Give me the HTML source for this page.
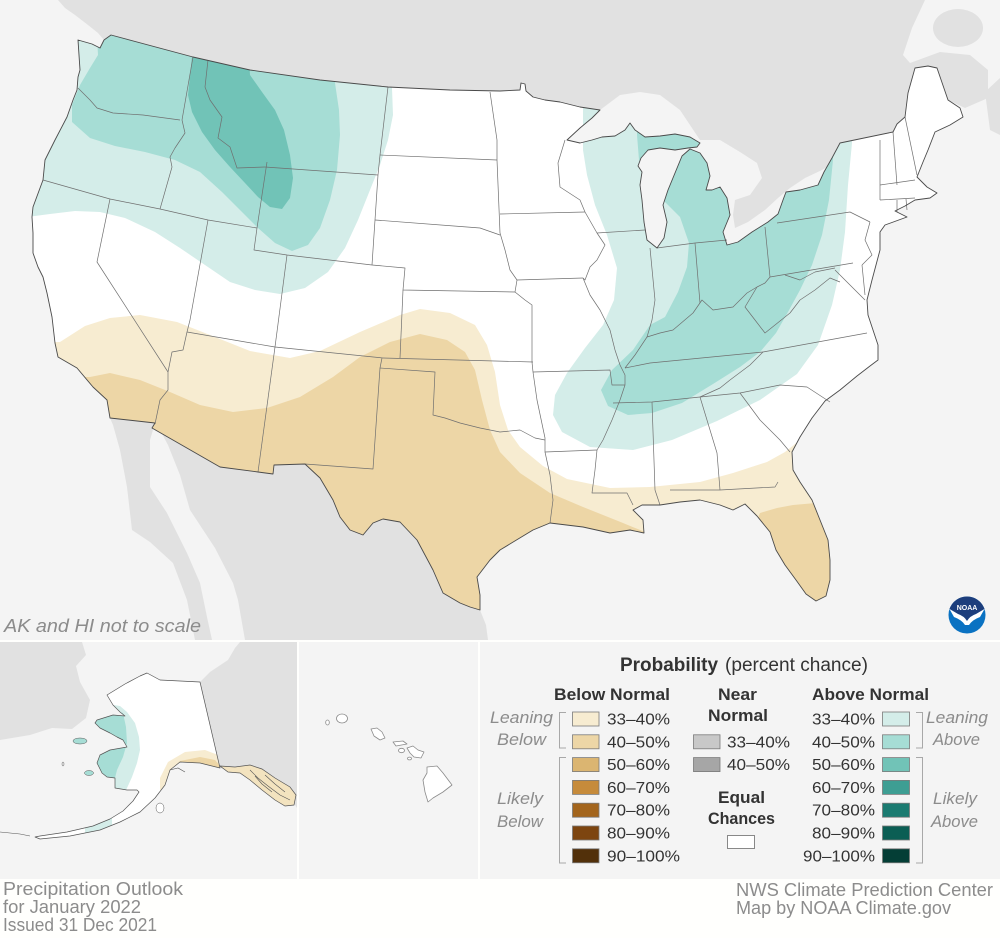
<!DOCTYPE html>
<html><head><meta charset="utf-8">
<style>
html,body{margin:0;padding:0;background:#fffffd;}
svg{display:block;}
text{font-family:"Liberation Sans",sans-serif;}
</style></head><body>
<svg width="1000" height="938" viewBox="0 0 1000 938" xmlns="http://www.w3.org/2000/svg">
<defs>
<clipPath id="us"><path d="M78,40 L92,44 100,48 104,40 111,35 193,57 250,70 320,80 388,87 450,90 500,91 520,90 521,83 525,84 526,91 533,97 545,100 560,102 580,107 600,110 592,118 580,128 567,140 580,143 592,140 602,137 615,136 625,130 630,123 635,130 645,137 660,136 675,134 690,137 700,143 697,147 688,148 675,150 660,148 648,150 641,158 638,166 642,172 640,185 642,200 644,222 647,240 657,248 664,238 667,222 663,205 668,190 675,173 682,156 690,149 700,153 707,163 710,176 706,190 712,190 720,187 727,198 730,215 723,232 727,245 738,242 752,232 768,222 778,214 783,200 786,192 800,190 818,185 824,172 832,158 840,143 893,132 897,124 905,117 908,93 915,68 928,66 937,68 948,100 960,108 963,117 950,125 935,132 928,150 923,162 917,177 927,187 937,193 930,198 915,200 905,206 895,211 907,217 885,225 880,232 880,250 876,265 872,280 867,300 868,315 873,330 878,345 878,360 870,366 857,376 840,390 825,401 812,418 800,437 792,452 793,470 800,482 812,500 820,520 828,540 830,560 830,580 826,596 816,601 806,594 796,580 785,565 776,550 770,532 757,516 745,504 733,510 720,505 700,500 680,502 660,505 642,505 633,510 643,520 644,533 630,530 610,533 583,527 550,523 533,530 500,550 490,560 477,577 480,595 480,610 470,607 460,603 443,593 433,570 417,540 400,522 383,519 373,523 363,535 350,530 340,517 333,500 320,478 305,464 274,465 273,474 258,472 220,467 152,428 155,423 110,418 107,400 93,387 77,368 58,357 55,343 52,317 47,293 43,277 38,267 33,253 33,233 32,217 33,207 43,180 45,160 55,140 67,117 73,100 77,90 78,77 80,70 Z"/></clipPath>
<clipPath id="ak"><path d="M107,695 L125,684 140,676 147,673 160,680 200,682 220,768 200,763 180,762 170,770 165,785 155,798 140,812 120,822 100,830 70,836 40,839 35,837 40,836 67,832 93,826 110,819 123,811 133,801 139,792 137,790 127,790 115,788 115,778 107,777 102,773 97,763 100,755 110,750 127,747 123,740 117,737 110,733 100,728 95,723 97,720 113,715 125,716 120,712 113,705 Z"/></clipPath>
<clipPath id="mainclip"><rect x="0" y="0" width="1000" height="640"/></clipPath>
<clipPath id="akpanel"><rect x="0" y="642" width="297" height="237"/></clipPath>
</defs>

<rect width="1000" height="938" fill="#fffffd"/>

<!-- MAIN MAP -->
<g clip-path="url(#mainclip)">
<rect width="1000" height="640" fill="#f4f4f4"/>
<!-- Canada -->
<path fill="#e1e1e1" d="M58,0 L925,0 912,28 903,55 910,63 940,52 970,55 988,70 988,98 965,108 948,100 937,68 915,68 908,93 905,117 893,132 840,143 845,150 838,160 822,170 805,178 790,188 778,198 765,210 748,222 735,228 733,215 735,200 750,195 762,178 757,163 740,152 720,140 700,140 690,125 680,110 660,95 640,92 620,95 600,110 580,107 560,102 545,100 533,97 526,91 525,84 521,83 520,90 500,91 450,90 388,87 320,80 250,70 193,57 111,35 104,40 98,33 88,25 75,15 65,8 Z"/>
<ellipse cx="958" cy="28" rx="25" ry="19" fill="#e1e1e1"/>
<path fill="#e1e1e1" d="M985,92 L1000,78 1000,135 990,130 Z"/>
<!-- Mexico -->
<path fill="#e1e1e1" d="M155,423 L152,428 220,467 258,472 273,474 274,465 305,464 320,478 333,500 340,517 363,535 373,523 383,519 400,522 417,540 433,570 443,593 460,603 480,610 486,625 488,640 245,640 238,600 233,583 215,548 190,510 180,475 168,445 160,430 Z"/>
<path fill="#e1e1e1" d="M110,418 L155,423 150,440 150,487 167,513 187,553 200,583 207,617 212,640 195,640 187,600 173,563 150,542 132,530 127,487 120,450 113,425 Z"/>

<!-- US land -->
<rect x="0" y="0" width="1000" height="640" fill="#ffffff" clip-path="url(#us)"/>
<g clip-path="url(#us)">
<path fill="#d4ede9" d="M20,0 L392,0 392,88 393,115 388,140 380,165 370,190 358,220 345,248 328,272 305,288 280,294 255,290 230,282 205,265 180,248 155,232 125,218 100,212 75,211 50,214 20,218 Z"/>
<path fill="#a6ddd5" d="M95,0 L338,0 335,83 339,110 340,135 337,170 330,200 320,228 308,245 292,251 275,243 258,228 240,210 222,192 200,172 175,160 145,152 115,146 90,138 72,122 72,105 80,85 90,68 98,55 Z"/>
<path fill="#71c3b7" d="M198,0 L245,0 250,75 262,92 275,110 284,130 290,155 293,178 290,198 282,209 270,207 258,197 245,183 230,167 215,150 202,132 192,112 188,95 190,75 Z"/>
<path fill="#d4ede9" d="M583,0 L583,150 587,175 595,205 607,235 617,268 614,300 603,325 585,348 567,373 555,395 553,415 562,432 590,447 633,450 672,440 717,421 760,400 797,374 818,345 832,305 840,270 845,232 848,185 852,143 852,0 Z"/>
<path fill="#a6ddd5" d="M637,0 L637,135 639,160 650,178 663,200 680,217 689,243 687,267 678,292 665,317 650,325 633,350 612,370 601,390 608,406 628,415 652,413 682,403 713,384 740,367 760,352 776,333 788,312 800,290 812,265 822,235 829,200 833,160 834,0 Z"/>
<path fill="#f7ecd1" d="M0,343 L60,342 85,326 110,318 140,315 177,322 210,335 250,351 290,358 320,351 360,332 400,315 420,309 450,313 475,325 487,345 495,372 500,405 508,430 520,447 543,466 567,479 610,488 650,487 700,482 733,473 767,462 785,452 800,440 900,440 900,640 0,640 Z"/>
<path fill="#edd6a6" d="M0,377 L90,377 110,373 140,380 170,392 200,405 233,412 267,408 300,397 333,377 360,357 390,342 420,334 447,340 465,352 475,370 482,400 490,430 500,452 520,473 550,493 583,507 623,523 645,532 650,640 0,640 Z"/>
<path fill="#edd6a6" d="M740,540 L757,520 760,513 777,508 793,505 850,500 850,640 740,640 Z"/>
</g>

<!-- state lines -->
<g fill="none" stroke="#6f6f6f" stroke-width="0.7" stroke-linejoin="round">
<polyline points="78,88 90,100 97,108 113,113 143,115 180,120"/>
<polyline points="193,57 182,120"/>
<polyline points="182,120 185,133 175,148 170,157 172,167 160,209"/>
<polyline points="43,180 110,199 160,209 208,220 257,228"/>
<polyline points="110,199 97,262 168,372"/>
<polyline points="208,220 190,320 187,332"/>
<polyline points="187,332 183,350 172,352 168,372 168,390 160,400 155,424"/>
<polyline points="187,332 275,347 383,358"/>
<polyline points="275,347 258,472"/>
<polyline points="208,60 205,87 210,100 222,117 218,138 230,147 237,168 265,167"/>
<polyline points="267,162 257,228 254,250 287,255 372,265"/>
<polyline points="287,255 275,347"/>
<polyline points="265,167 378,175"/>
<polyline points="388,87 380,155 378,175 375,220 372,265"/>
<polyline points="380,155 497,160"/>
<polyline points="375,220 467,227 480,228 500,235"/>
<polyline points="372,265 405,268 403,290 515,292"/>
<polyline points="403,290 400,358"/>
<polyline points="383,358 533,362"/>
<polyline points="382,358 380,368 435,372 433,415 445,418 460,423 480,428 500,432 520,430 535,438 545,440"/>
<polyline points="380,368 373,469 305,464"/>
<polyline points="490,92 497,140 497,160 500,233"/>
<polyline points="500,214 585,212"/>
<polyline points="585,212 580,200 560,187 558,163 565,140"/>
<polyline points="500,233 505,250 510,270 517,280 515,292 525,300 532,305 532,362 533,372"/>
<polyline points="517,280 583,278"/>
<polyline points="585,212 597,233 605,245 597,260 590,267 585,280 583,278"/>
<polyline points="533,372 610,370 612,385 625,385"/>
<polyline points="583,278 590,295 600,310 610,330 615,350 620,365 625,375 625,385 620,400 612,420 603,440 597,450"/>
<polyline points="533,372 537,400 545,438 545,452 597,450"/>
<polyline points="545,452 550,475 553,500 550,523"/>
<polyline points="597,450 595,470 592,493 627,493 633,505"/>
<polyline points="613,403 652,402 700,397"/>
<polyline points="652,402 655,490 660,505"/>
<polyline points="700,397 717,453 720,490"/>
<polyline points="670,490 720,490 775,487 778,482"/>
<polyline points="740,393 760,420 780,440 790,452"/>
<polyline points="700,397 740,393 780,385 807,387 830,402"/>
<polyline points="625,368 650,363 763,352"/>
<polyline points="763,352 750,365 730,380 720,388 700,397"/>
<polyline points="763,352 867,333"/>
<polyline points="625,368 635,355 647,337 660,333 673,330 693,313 702,300 713,310 733,307 747,293 757,287 765,283 770,277"/>
<polyline points="757,287 745,307 755,320 765,333 790,313 800,300 815,290 830,278 840,282"/>
<polyline points="597,233 645,230"/>
<polyline points="650,248 655,300 652,320 647,337"/>
<polyline points="657,248 695,243 727,240"/>
<polyline points="695,243 700,303"/>
<polyline points="765,227 770,277"/>
<polyline points="777,223 850,212 870,222"/>
<polyline points="770,277 853,263"/>
<polyline points="785,275 800,280 815,272 835,268"/>
<polyline points="870,222 865,240 872,255 862,265"/>
<polyline points="862,265 865,295"/>
<polyline points="835,270 855,290 865,300"/>
<polyline points="880,140 880,200"/>
<polyline points="893,132 897,185"/>
<polyline points="905,117 917,175"/>
<polyline points="880,185 915,180"/>
<polyline points="880,200 915,198"/>
<polyline points="897,200 897,212"/>
<polyline points="906,199 907,210"/>
</g>

<!-- US outline -->
<path fill="none" stroke="#4a4a4a" stroke-width="0.9" stroke-linejoin="round" d="M78,40 L92,44 100,48 104,40 111,35 193,57 250,70 320,80 388,87 450,90 500,91 520,90 521,83 525,84 526,91 533,97 545,100 560,102 580,107 600,110 592,118 580,128 567,140 580,143 592,140 602,137 615,136 625,130 630,123 635,130 645,137 660,136 675,134 690,137 700,143 697,147 688,148 675,150 660,148 648,150 641,158 638,166 642,172 640,185 642,200 644,222 647,240 657,248 664,238 667,222 663,205 668,190 675,173 682,156 690,149 700,153 707,163 710,176 706,190 712,190 720,187 727,198 730,215 723,232 727,245 738,242 752,232 768,222 778,214 783,200 786,192 800,190 818,185 824,172 832,158 840,143 893,132 897,124 905,117 908,93 915,68 928,66 937,68 948,100 960,108 963,117 950,125 935,132 928,150 923,162 917,177 927,187 937,193 930,198 915,200 905,206 895,211 907,217 885,225 880,232 880,250 876,265 872,280 867,300 868,315 873,330 878,345 878,360 870,366 857,376 840,390 825,401 812,418 800,437 792,452 793,470 800,482 812,500 820,520 828,540 830,560 830,580 826,596 816,601 806,594 796,580 785,565 776,550 770,532 757,516 745,504 733,510 720,505 700,500 680,502 660,505 642,505 633,510 643,520 644,533 630,530 610,533 583,527 550,523 533,530 500,550 490,560 477,577 480,595 480,610 470,607 460,603 443,593 433,570 417,540 400,522 383,519 373,523 363,535 350,530 340,517 333,500 320,478 305,464 274,465 273,474 258,472 220,467 152,428 155,423 110,418 107,400 93,387 77,368 58,357 55,343 52,317 47,293 43,277 38,267 33,253 33,233 32,217 33,207 43,180 45,160 55,140 67,117 73,100 77,90 78,77 80,70 Z"/>

<text x="4" y="632" font-size="18" font-style="italic" fill="#8c8c8c" textLength="197" lengthAdjust="spacingAndGlyphs">AK and HI not to scale</text>

<!-- NOAA logo -->
<g transform="translate(967,615)">
<circle r="18.5" fill="#0a72c2"/>
<path d="M-17.5,-6 A18.5,18.5 0 0 1 17.5,-6 L9,-1 Q3,1 0,6 Q-3,1 -9,-1 Z" fill="#1d3e7c"/>
<path d="M-17.5,-6 L-9,-1 Q-3,1 0,6 Q3,1 9,-1 L17.5,-6 L13,2 Q5,5 2,10 L-2,10 Q-5,5 -13,2 Z" fill="#ffffff"/>
<text x="0" y="-5" font-size="7" font-weight="bold" fill="#ffffff" text-anchor="middle">NOAA</text>
</g>
</g>

<!-- ALASKA PANEL -->
<g clip-path="url(#akpanel)">
<rect x="0" y="642" width="297" height="237" fill="#f4f4f4"/>
<path fill="#e1e1e1" d="M0,642 L82,642 86,655 76,666 80,682 90,700 86,718 72,729 52,728 30,735 0,740 Z"/>
<path fill="#e1e1e1" d="M200,682 L210,672 228,660 235,648 240,642 297,642 297,808 292,800 275,785 255,775 220,768 Z"/>
<rect x="0" y="642" width="297" height="237" fill="#ffffff" clip-path="url(#ak)"/>
<g clip-path="url(#ak)">
<path fill="#d4ede9" d="M80,700 L120,706 127,712 135,723 139,737 140,750 137,763 132,777 127,788 120,800 80,800 Z"/>
<path fill="#a6ddd5" d="M80,710 L110,710 123,713 126,727 127,743 123,757 117,770 115,778 116,795 80,795 Z"/>
<path fill="#d4ede9" d="M85,815 L112,815 112,835 85,835 Z"/>
<path fill="#f7ecd1" d="M160,778 L168,762 185,752 205,750 218,755 225,770 160,790 Z"/>
<path fill="#edd6a6" d="M170,772 L180,761 200,757 215,760 222,768 Z"/>
</g>
<path fill="none" stroke="#555" stroke-width="0.7" stroke-linejoin="round" d="M107,695 L125,684 140,676 147,673 160,680 200,682 220,768 200,763 180,762 170,770 165,785 155,798 140,812 120,822 100,830 70,836 40,839 35,837 40,836 67,832 93,826 110,819 123,811 133,801 139,792 137,790 127,790 115,788 115,778 107,777 102,773 97,763 100,755 110,750 127,747 123,740 117,737 110,733 100,728 95,723 97,720 113,715 125,716 120,712 113,705 Z"/>
<path fill="#f3e3bf" stroke="#555" stroke-width="0.7" d="M220,766 L235,767 250,765 262,769 275,778 290,787 296,795 294,805 285,806 275,800 262,790 250,780 240,773 228,772 Z"/>
<g fill="none" stroke="#555" stroke-width="0.6">
<polyline points="250,770 258,778 268,786 280,795 290,800"/>
<polyline points="255,776 262,784 272,792"/>
<polyline points="265,775 275,784 285,792"/>
<polyline points="170,770 178,768 185,772"/>
<polyline points="0,832 10,833 20,834 30,836"/>
</g>
<ellipse cx="80" cy="741" rx="7" ry="3" fill="#a6ddd5" stroke="#555" stroke-width="0.5"/>
<ellipse cx="89" cy="773" rx="4.5" ry="2.5" fill="#a6ddd5" stroke="#555" stroke-width="0.5"/>
<ellipse cx="63" cy="764" rx="1" ry="2" fill="#fff" stroke="#555" stroke-width="0.5"/>
<ellipse cx="160" cy="808" rx="4" ry="5" fill="#fff" stroke="#555" stroke-width="0.5"/>
</g>

<!-- HAWAII PANEL -->
<rect x="299" y="642" width="179" height="237" fill="#f4f4f4"/>
<g fill="#ffffff" stroke="#8a8a8a" stroke-width="0.8" stroke-linejoin="round">
<ellipse cx="327.5" cy="722.5" rx="1.8" ry="2.5"/>
<ellipse cx="342" cy="718.5" rx="5.5" ry="4.5"/>
<path d="M371,729 L377,728 382,732 385,738 380,740 374,736 Z"/>
<path d="M393,742 L403,741 407,744 396,746 Z"/>
<path d="M407,748 L413,746 418,750 424,752 421,758 414,757 410,753 Z"/>
<ellipse cx="401.5" cy="750.5" rx="3" ry="2.2"/>
<ellipse cx="409.5" cy="758.5" rx="2" ry="1.4"/>
<path d="M427,767 L437,766 443,773 452,785 443,792 433,798 428,802 425,792 423,780 427,773 Z"/>
</g>

<!-- LEGEND PANEL -->
<rect x="480" y="642" width="520" height="237" fill="#f4f4f4"/>
<text x="620" y="671" font-size="19" font-weight="bold" fill="#333" textLength="98" lengthAdjust="spacingAndGlyphs">Probability</text>
<text x="725" y="671" font-size="19" fill="#333" textLength="143" lengthAdjust="spacingAndGlyphs">(percent chance)</text>
<text x="554" y="700" font-size="17" font-weight="bold" fill="#333" textLength="116" lengthAdjust="spacingAndGlyphs">Below Normal</text>
<text x="718" y="700" font-size="17" font-weight="bold" fill="#333" textLength="39" lengthAdjust="spacingAndGlyphs">Near</text>
<text x="708" y="721" font-size="17" font-weight="bold" fill="#333" textLength="60" lengthAdjust="spacingAndGlyphs">Normal</text>
<text x="812" y="700" font-size="17" font-weight="bold" fill="#333" textLength="117" lengthAdjust="spacingAndGlyphs">Above Normal</text>
<text x="718" y="803" font-size="17" font-weight="bold" fill="#333" textLength="47" lengthAdjust="spacingAndGlyphs">Equal</text>
<text x="708" y="824" font-size="17" font-weight="bold" fill="#333" textLength="67" lengthAdjust="spacingAndGlyphs">Chances</text>
<rect x="727.5" y="835.5" width="27" height="13" fill="#fff" stroke="#888" stroke-width="1"/>

<g font-size="17" font-style="italic" fill="#8c8c8c">
<text x="490" y="723" textLength="63" lengthAdjust="spacingAndGlyphs">Leaning</text>
<text x="497" y="745" textLength="49" lengthAdjust="spacingAndGlyphs">Below</text>
<text x="497" y="804" textLength="46" lengthAdjust="spacingAndGlyphs">Likely</text>
<text x="497" y="827" textLength="46" lengthAdjust="spacingAndGlyphs">Below</text>
<text x="926" y="723" textLength="62" lengthAdjust="spacingAndGlyphs">Leaning</text>
<text x="933" y="745" textLength="47" lengthAdjust="spacingAndGlyphs">Above</text>
<text x="933" y="804" textLength="44" lengthAdjust="spacingAndGlyphs">Likely</text>
<text x="931" y="827" textLength="47" lengthAdjust="spacingAndGlyphs">Above</text>
</g>
<g fill="none" stroke="#a8a8a8" stroke-width="1">
<polyline points="566,712.5 559.5,712.5 559.5,748 566,748"/>
<polyline points="566,757.5 559.5,757.5 559.5,863 566,863"/>
<polyline points="916,712.5 922.5,712.5 922.5,748 916,748"/>
<polyline points="916,757.5 922.5,757.5 922.5,863 916,863"/>
</g>

<!-- below swatches -->
<g stroke="#7a7a7a" stroke-width="0.8">
<rect x="572.5" y="712" width="26.5" height="14" fill="#f7ecd1"/>
<rect x="572.5" y="734.8" width="26.5" height="14" fill="#edd6a6"/>
<rect x="572.5" y="757.6" width="26.5" height="14" fill="#dbb571"/>
<rect x="572.5" y="780.4" width="26.5" height="14" fill="#c68b3b"/>
<rect x="572.5" y="803.2" width="26.5" height="14" fill="#a3651d"/>
<rect x="572.5" y="826" width="26.5" height="14" fill="#7d4510"/>
<rect x="572.5" y="848.8" width="26.5" height="14" fill="#52300a"/>
<rect x="693.5" y="734.8" width="26.5" height="14" fill="#c8c8c8"/>
<rect x="693.5" y="757.6" width="26.5" height="14" fill="#a6a6a6"/>
<rect x="882.5" y="712" width="27" height="14" fill="#d4ede9"/>
<rect x="882.5" y="734.8" width="27" height="14" fill="#a6ddd5"/>
<rect x="882.5" y="757.6" width="27" height="14" fill="#71c3b7"/>
<rect x="882.5" y="780.4" width="27" height="14" fill="#3e9e93"/>
<rect x="882.5" y="803.2" width="27" height="14" fill="#1b7b71"/>
<rect x="882.5" y="826" width="27" height="14" fill="#0b5e54"/>
<rect x="882.5" y="848.8" width="27" height="14" fill="#043e36"/>
</g>
<g font-size="16" fill="#333">
<text x="607" y="724.5" textLength="63" lengthAdjust="spacingAndGlyphs">33–40%</text>
<text x="607" y="747.3" textLength="63" lengthAdjust="spacingAndGlyphs">40–50%</text>
<text x="607" y="770.1" textLength="63" lengthAdjust="spacingAndGlyphs">50–60%</text>
<text x="607" y="792.9" textLength="63" lengthAdjust="spacingAndGlyphs">60–70%</text>
<text x="607" y="815.7" textLength="63" lengthAdjust="spacingAndGlyphs">70–80%</text>
<text x="607" y="838.5" textLength="63" lengthAdjust="spacingAndGlyphs">80–90%</text>
<text x="607" y="861.3" textLength="73" lengthAdjust="spacingAndGlyphs">90–100%</text>
<text x="727" y="747.3" textLength="63" lengthAdjust="spacingAndGlyphs">33–40%</text>
<text x="727" y="770.1" textLength="63" lengthAdjust="spacingAndGlyphs">40–50%</text>
<text x="875" y="724.5" text-anchor="end" textLength="63" lengthAdjust="spacingAndGlyphs">33–40%</text>
<text x="875" y="747.3" text-anchor="end" textLength="63" lengthAdjust="spacingAndGlyphs">40–50%</text>
<text x="875" y="770.1" text-anchor="end" textLength="63" lengthAdjust="spacingAndGlyphs">50–60%</text>
<text x="875" y="792.9" text-anchor="end" textLength="63" lengthAdjust="spacingAndGlyphs">60–70%</text>
<text x="875" y="815.7" text-anchor="end" textLength="63" lengthAdjust="spacingAndGlyphs">70–80%</text>
<text x="875" y="838.5" text-anchor="end" textLength="63" lengthAdjust="spacingAndGlyphs">80–90%</text>
<text x="875" y="861.3" text-anchor="end" textLength="72" lengthAdjust="spacingAndGlyphs">90–100%</text>
</g>

<!-- footer -->
<g font-size="18" fill="#8c8c8c">
<text x="3" y="895" textLength="180" lengthAdjust="spacingAndGlyphs">Precipitation Outlook</text>
<text x="3" y="913" textLength="138" lengthAdjust="spacingAndGlyphs">for January 2022</text>
<text x="3" y="931" textLength="154" lengthAdjust="spacingAndGlyphs">Issued 31 Dec 2021</text>
<text x="736" y="896" textLength="257" lengthAdjust="spacingAndGlyphs">NWS Climate Prediction Center</text>
<text x="736" y="914" textLength="215" lengthAdjust="spacingAndGlyphs">Map by NOAA Climate.gov</text>
</g>
</svg>
</body></html>
